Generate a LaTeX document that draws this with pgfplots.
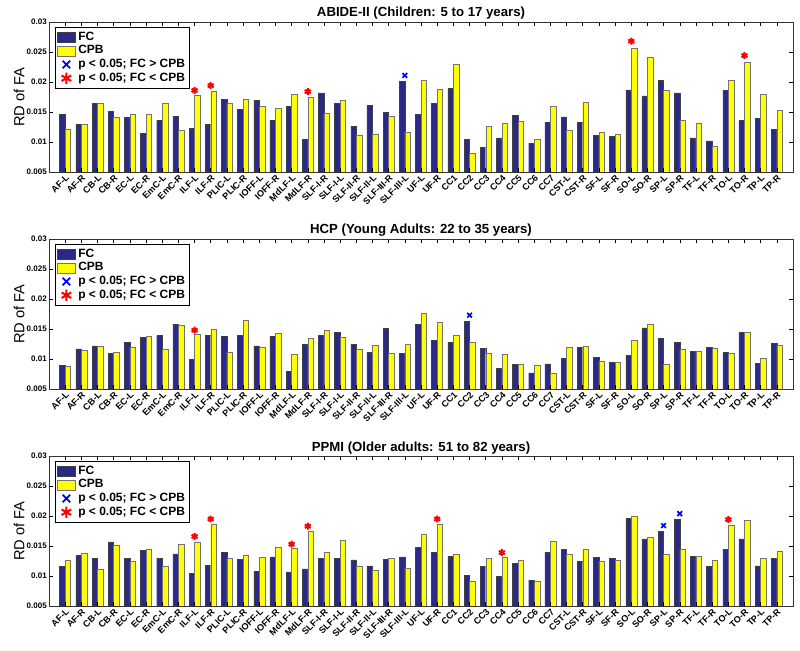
\documentclass[border=0pt]{standalone}
\usepackage{fontspec}
\setmainfont{Liberation Sans}
\usepackage{pgfplots}
\usepackage{pgfplotstable}
\pgfplotsset{compat=1.18}
\definecolor{fcblue}{RGB}{43,41,135}
\definecolor{cpbyel}{RGB}{255,255,0}

% x = tract index, fc, cpb
\pgfplotstableread{
x fc cpb
1 0.0146 0.0122
2 0.0130 0.0130
3 0.0165 0.0165
4 0.0151 0.0141
5 0.0141 0.0147
6 0.0115 0.0146
7 0.0136 0.0164
8 0.0143 0.0119
9 0.0123 0.0178
10 0.0130 0.0185
11 0.0171 0.0165
12 0.0154 0.0171
13 0.0170 0.0160
14 0.0136 0.0157
15 0.0159 0.0179
16 0.0104 0.0175
17 0.0182 0.0148
18 0.0164 0.0169
19 0.0126 0.0111
20 0.0161 0.0113
21 0.0150 0.0143
22 0.0201 0.0116
23 0.0146 0.0203
24 0.0164 0.0188
25 0.0189 0.0229
26 0.0104 0.0082
27 0.0091 0.0126
28 0.0107 0.0131
29 0.0144 0.0135
30 0.0098 0.0104
31 0.0133 0.0160
32 0.0142 0.0119
33 0.0133 0.0166
34 0.0111 0.0116
35 0.0110 0.0113
36 0.0187 0.0256
37 0.0177 0.0241
38 0.0203 0.0187
39 0.0182 0.0137
40 0.0107 0.0132
41 0.0102 0.0093
42 0.0186 0.0203
43 0.0136 0.0233
44 0.0139 0.0179
45 0.0121 0.0153
}\dataA

\pgfplotstableread{
x fc cpb
1 0.0090 0.0088
2 0.0117 0.0114
3 0.0122 0.0121
4 0.0110 0.0111
5 0.0128 0.0120
6 0.0136 0.0138
7 0.0139 0.0116
8 0.0158 0.0156
9 0.0100 0.0141
10 0.0139 0.0149
11 0.0138 0.0112
12 0.0139 0.0164
13 0.0122 0.0119
14 0.0138 0.0143
15 0.0080 0.0108
16 0.0125 0.0135
17 0.0139 0.0148
18 0.0145 0.0137
19 0.0124 0.0116
20 0.0111 0.0123
21 0.0151 0.0110
22 0.0110 0.0125
23 0.0158 0.0177
24 0.0131 0.0162
25 0.0128 0.0140
26 0.0163 0.0128
27 0.0118 0.0109
28 0.0084 0.0108
29 0.0091 0.0091
30 0.0077 0.0089
31 0.0092 0.0077
32 0.0101 0.0119
33 0.0120 0.0122
34 0.0103 0.0097
35 0.0094 0.0095
36 0.0106 0.0131
37 0.0152 0.0158
38 0.0134 0.0091
39 0.0128 0.0116
40 0.0113 0.0113
41 0.0120 0.0118
42 0.0111 0.0110
43 0.0145 0.0145
44 0.0093 0.0101
45 0.0126 0.0123
}\dataB

\pgfplotstableread{
x fc cpb
1 0.0116 0.0126
2 0.0134 0.0138
3 0.0130 0.0112
4 0.0157 0.0152
5 0.0130 0.0124
6 0.0143 0.0145
7 0.0130 0.0117
8 0.0137 0.0153
9 0.0104 0.0157
10 0.0118 0.0186
11 0.0140 0.0129
12 0.0128 0.0135
13 0.0108 0.0131
14 0.0132 0.0148
15 0.0107 0.0146
16 0.0112 0.0174
17 0.0129 0.0140
18 0.0129 0.0159
19 0.0127 0.0117
20 0.0117 0.0110
21 0.0128 0.0130
22 0.0132 0.0113
23 0.0148 0.0170
24 0.0139 0.0186
25 0.0133 0.0136
26 0.0101 0.0091
27 0.0116 0.0129
28 0.0100 0.0132
29 0.0121 0.0127
30 0.0093 0.0092
31 0.0140 0.0158
32 0.0145 0.0136
33 0.0125 0.0145
34 0.0131 0.0125
35 0.0129 0.0127
36 0.0196 0.0199
37 0.0162 0.0164
38 0.0175 0.0137
39 0.0194 0.0144
40 0.0133 0.0133
41 0.0116 0.0127
42 0.0145 0.0184
43 0.0162 0.0193
44 0.0117 0.0130
45 0.0130 0.0142
}\dataC

\pgfplotsset{
  panel/.style={
    scale only axis, width=558pt, height=112.5pt,
    xmin=0, xmax=46, ymin=0.005, ymax=0.03,
    xtick={1,...,45},
    xticklabels={AF-L,AF-R,CB-L,CB-R,EC-L,EC-R,EmC-L,EmC-R,ILF-L,ILF-R,PLIC-L,PLIC-R,IOFF-L,IOFF-R,MdLF-L,MdLF-R,SLF-I-R,SLF-I-L,SLF-II-R,SLF-II-L,SLF-III-R,SLF-III-L,UF-L,UF-R,CC1,CC2,CC3,CC4,CC5,CC6,CC7,CST-L,CST-R,SF-L,SF-R,SO-L,SO-R,SP-L,SP-R,TF-L,TF-R,TO-L,TO-R,TP-L,TP-R},
    ytick={0.005,0.01,0.015,0.02,0.025,0.03},
    yticklabels={0.005,0.01,0.015,0.02,0.025,0.03},
    scaled y ticks=false,
    tick align=inside, major tick length=3pt,
    tick style={black, line width=0.4pt},
    x tick label style={rotate=45, anchor=north east, font=\bfseries\fontsize{6.8}{7}\selectfont, inner sep=1pt},
    y tick label style={font=\bfseries\fontsize{6}{7}\selectfont, inner sep=1.5pt},
    axis on top,
    axis line style={black!80, line width=0.5pt},
    title style={font=\bfseries\fontsize{9.9}{11}\selectfont, at={(0.5,1)}, anchor=south, inner sep=0pt, yshift=-4.5pt},
    ylabel={RD of FA},
    ylabel style={font=\fontsize{11}{12}\selectfont, at={(axis description cs:-0.0403,0.5)}, anchor=center},
    legend cell align=left,
    legend style={at={(0.008,0.967)}, anchor=north west, draw=black, line width=0.4pt, fill=white,
      font=\bfseries\fontsize{9}{9.75}\selectfont, inner sep=1.5pt, row sep=-1.5pt},
  },
  fcbar/.style={ybar, bar width=0.34, bar shift=-0.17, fill=fcblue, draw=black!75, line width=0.3pt,
    legend image code/.code={\draw[##1, line width=0.3pt] (0pt,-3.75pt) rectangle (13.5pt,3.75pt);}},
  cpbbar/.style={ybar, bar width=0.34, bar shift=0.17, fill=cpbyel, draw=black!55, line width=0.3pt,
    legend image code/.code={\draw[##1, line width=0.3pt] (0pt,-3.75pt) rectangle (13.5pt,3.75pt);}},
  sigx/.style={only marks, mark=x, color=blue, mark size=2.5pt, line width=1.3pt,
    legend image code/.code={\path[draw=none, fill=none] (0pt,-3.75pt) (13.5pt,3.75pt); \draw[##1, mark options={scale=1.6}] plot coordinates {(6.75pt,0pt)};}},
  sigr/.style={only marks, mark=asterisk, color=red, mark size=2.6pt, line width=1.5pt,
    legend image code/.code={\path[draw=none, fill=none] (0pt,-3.75pt) (13.5pt,3.75pt); \draw[##1, mark options={scale=1.6}] plot coordinates {(6.75pt,0pt)};}},
}

\begin{document}
\begin{tikzpicture}
\path[use as bounding box] (0,0) rectangle (600pt,-487.5pt);

\begin{axis}[panel, at={(36.75pt,-16.5pt)}, anchor=north west,
  title={ABIDE-II (Children: 5 to 17 years)}]
\addplot[fcbar] table[x=x,y=fc]{\dataA};
\addplot[cpbbar] table[x=x,y=cpb]{\dataA};
\addplot[sigx] coordinates {(22,0.0211)};
\addplot[sigr] coordinates {(9,0.0186) (10,0.0194) (16,0.0184) (36,0.0268) (43,0.0244)};
\legend{FC,CPB,{p < 0.05; FC > CPB},{p < 0.05; FC < CPB}}
\end{axis}

\begin{axis}[panel, at={(36.75pt,-179.25pt)}, anchor=north west,
  title={HCP (Young Adults: 22 to 35 years)}]
\addplot[fcbar] table[x=x,y=fc]{\dataB};
\addplot[cpbbar] table[x=x,y=cpb]{\dataB};
\addplot[sigx] coordinates {(26,0.0173)};
\addplot[sigr] coordinates {(9,0.0148)};
\legend{FC,CPB,{p < 0.05; FC > CPB},{p < 0.05; FC < CPB}}
\end{axis}

\begin{axis}[panel, at={(36.75pt,-342pt)}, anchor=north west,
  title={PPMI (Older adults: 51 to 82 years)}]
\addplot[fcbar] table[x=x,y=fc]{\dataC};
\addplot[cpbbar] table[x=x,y=cpb]{\dataC};
\addplot[sigx] coordinates {(38,0.0184) (39,0.0204)};
\addplot[sigr] coordinates {(9,0.0166) (10,0.0195) (15,0.0153) (16,0.0183) (24,0.0195) (28,0.0139) (42,0.0194)};
\legend{FC,CPB,{p < 0.05; FC > CPB},{p < 0.05; FC < CPB}}
\end{axis}
\end{tikzpicture}
\end{document}
